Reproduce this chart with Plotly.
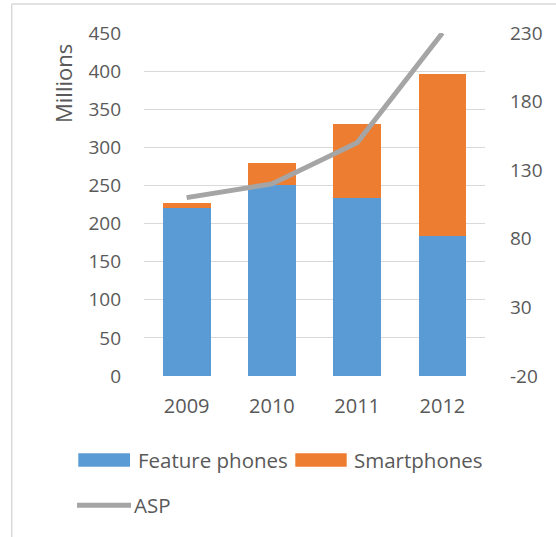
import plotly.graph_objects as go

# Handset shipments (millions) and average selling price
years = ["2009", "2010", "2011", "2012"]
feature_phones = [221, 250, 234, 184]
smartphones = [6, 30, 96, 212]
asp = [110, 120, 150, 230]

left_ticks = [0, 50, 100, 150, 200, 250, 300, 350, 400, 450]
right_ticks = [-20, 30, 80, 130, 180, 230]

BLUE = "#5B9BD5"
ORANGE = "#ED7D31"
GREY = "#A5A5A5"
TEXT = "#595959"
GRID = "#D9D9D9"
FONT = "Open Sans"
FS = 19

W, H = 556, 537
L, R, T, B = 144, 71, 33, 161
PW, PH = W - L - R, H - T - B


def px(x):
    return (x - L) / PW


def py(y):
    return (H - B - y) / PH


fig = go.Figure()
fig.add_trace(go.Bar(x=years, y=feature_phones, name="Feature phones",
                     marker=dict(color=BLUE, line=dict(width=0)), width=0.56))
fig.add_trace(go.Bar(x=years, y=smartphones, name="Smartphones",
                     marker=dict(color=ORANGE, line=dict(width=0)), width=0.56))
fig.add_trace(go.Scatter(x=years, y=asp, name="ASP", yaxis="y2", mode="lines",
                         line=dict(color=GREY, width=5)))

# Chart frame (left and top edges) and a hand-drawn legend with wide swatches
shapes = [
    dict(type="line", xref="paper", yref="paper",
         x0=px(11.7), x1=px(11.7), y0=py(537), y1=py(4),
         line=dict(color=GRID, width=1.5)),
    dict(type="line", xref="paper", yref="paper",
         x0=px(11.7), x1=px(556), y0=py(4), y1=py(4),
         line=dict(color=GRID, width=1.5)),
    dict(type="rect", xref="paper", yref="paper",
         x0=px(78.3), x1=px(130), y0=py(466.7), y1=py(453.3),
         line=dict(width=0), fillcolor=BLUE),
    dict(type="rect", xref="paper", yref="paper",
         x0=px(295.3), x1=px(346.7), y0=py(466.7), y1=py(453.3),
         line=dict(width=0), fillcolor=ORANGE),
    dict(type="line", xref="paper", yref="paper",
         x0=px(77), x1=px(131), y0=py(505.3), y1=py(505.3),
         line=dict(color=GREY, width=5)),
]

LEG = 20.5
annotations = [
    dict(text="Feature phones", x=px(135.5), y=py(460), xref="paper", yref="paper",
         xanchor="left", yanchor="middle", showarrow=False, font=dict(size=LEG)),
    dict(text="Smartphones", x=px(351.5), y=py(460), xref="paper", yref="paper",
         xanchor="left", yanchor="middle", showarrow=False, font=dict(size=LEG)),
    dict(text="ASP", x=px(132), y=py(505), xref="paper", yref="paper",
         xanchor="left", yanchor="middle", showarrow=False, font=dict(size=LEG)),
    dict(text="Millions", x=px(63), y=py(84), xref="paper", yref="paper",
         xanchor="center", yanchor="middle", textangle=-90, showarrow=False,
         font=dict(size=22)),
]

fig.update_layout(
    width=W, height=H,
    margin=dict(l=L, r=R, t=T, b=B, pad=0),
    paper_bgcolor="white", plot_bgcolor="white",
    font=dict(family=FONT, size=FS, color=TEXT),
    barmode="stack",
    showlegend=False,
    xaxis=dict(type="category", showgrid=False, showline=False, ticks="",
               tickfont=dict(size=20, color=TEXT), ticklabelstandoff=16),
    yaxis=dict(range=[0, 450], tickvals=left_ticks, showgrid=True,
               gridcolor=GRID, gridwidth=1.2, zeroline=False, showline=False,
               ticks="", ticklabelstandoff=22, tickfont=dict(size=FS, color=TEXT)),
    yaxis2=dict(range=[-20, 230], tickvals=right_ticks,
                ticktext=[str(v) for v in right_ticks], overlaying="y",
                side="right", showgrid=False, zeroline=False, showline=False,
                ticks="", ticklabelstandoff=24, tickfont=dict(size=FS, color=TEXT)),
    shapes=shapes,
    annotations=annotations,
)

fig.write_html("out.html")
